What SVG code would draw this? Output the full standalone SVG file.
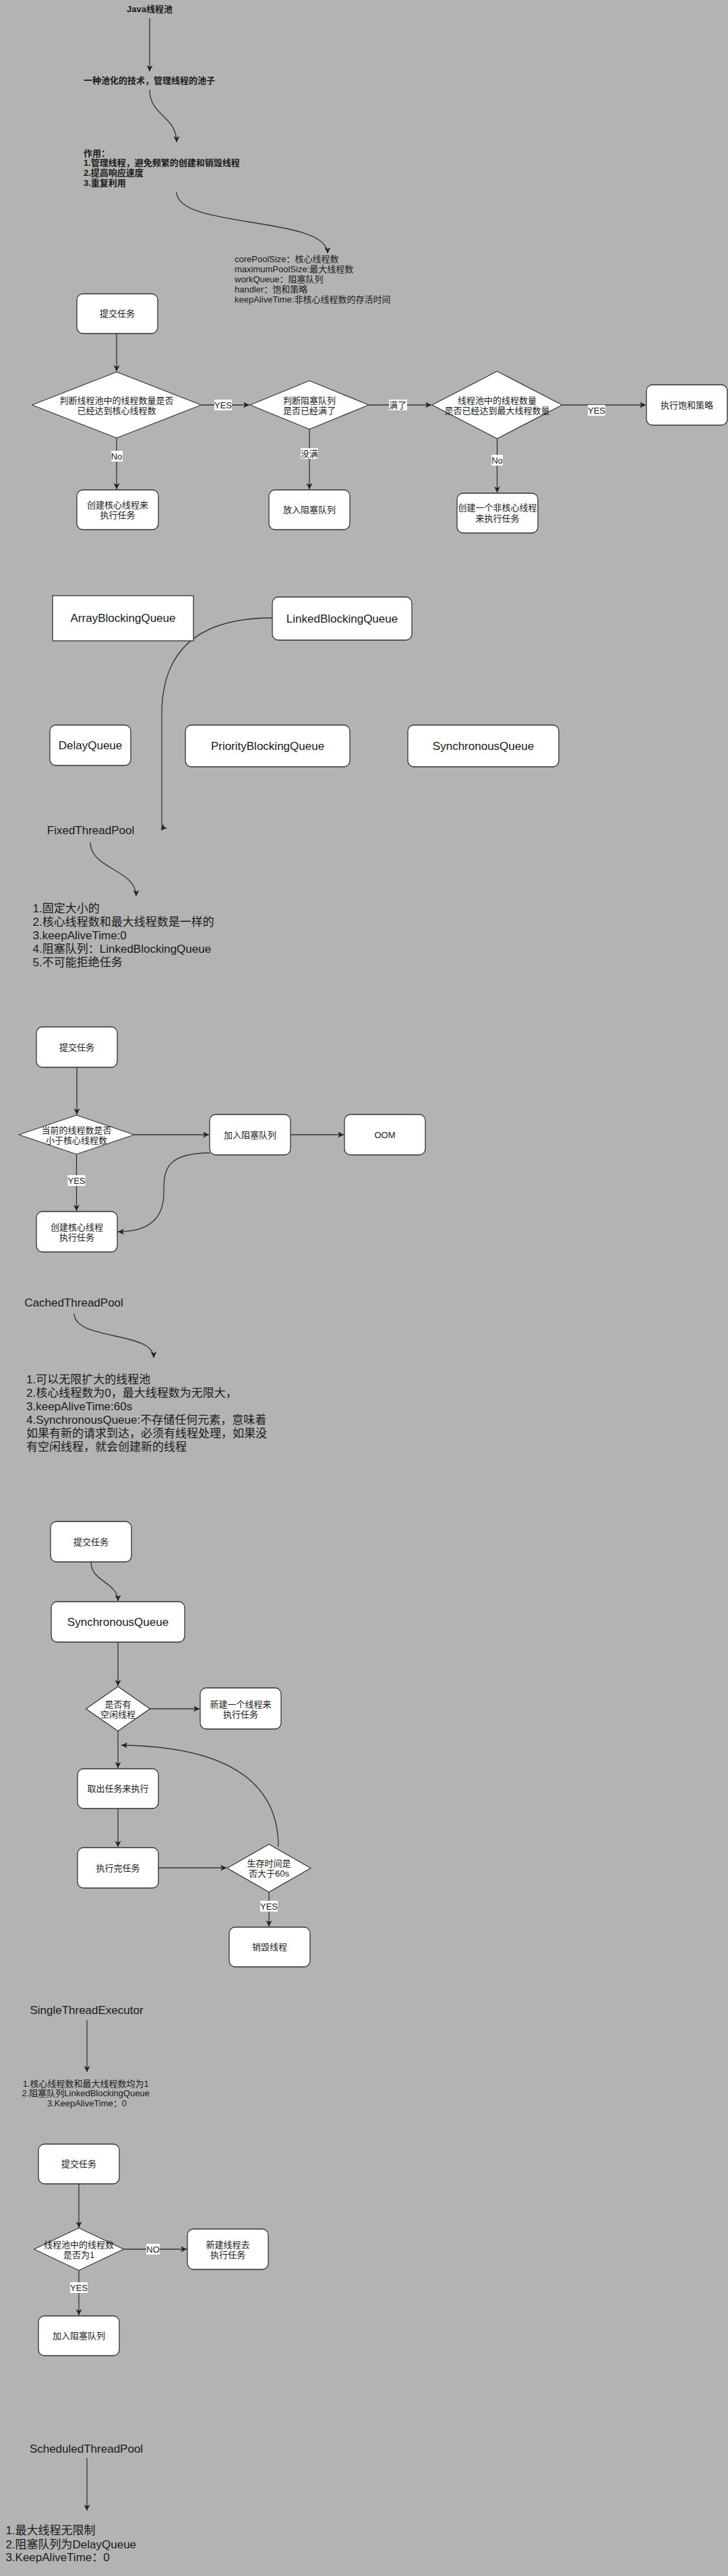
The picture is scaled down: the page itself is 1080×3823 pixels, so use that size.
<svg xmlns="http://www.w3.org/2000/svg" width="1080" height="3823" viewBox="0 0 1080 3823">
<defs>
<marker id="arr" markerUnits="userSpaceOnUse" markerWidth="12" markerHeight="12" refX="9" refY="4.5" orient="auto">
<path d="M0,0 L9,4.5 L0,9 L2.5,4.5 Z" fill="#222"/>
</marker>
<style>
text{font-family:"Liberation Sans","Noto Sans CJK SC",sans-serif;fill:#1a1a1a}
.t{font-size:13px;text-anchor:middle;dominant-baseline:central}
.tl{font-size:13px;dominant-baseline:central}
.b{font-weight:bold}
.big{font-size:17px}
.box{fill:#fff;stroke:#333;stroke-width:1.3}
.dia{fill:#fff;stroke:#333;stroke-width:1.3;stroke-linejoin:round}
.e{fill:none;stroke:#333;stroke-width:1.3;marker-end:url(#arr)}
.lb{fill:#fff}
</style>
</defs>
<rect x="0" y="0" width="1080" height="3823" fill="#b3b3b3"/>

<g id="connectors">
<path class="e" d="M222,27 L222,106"/>
<path class="e" d="M222,133 C222,172 262,172 262,211"/>
<path class="e" d="M262,285 C262,340 486,320 486,376"/>
<path class="e" d="M173,495 L173,551"/>
<path class="e" d="M299,601 L370,601"/>
<path class="e" d="M547,601 L640,601"/>
<path class="e" d="M834,601 L958,601"/>
<path class="e" d="M173,650 L173,726"/>
<path class="e" d="M459,637 L459,726"/>
<path class="e" d="M737.5,651 L737.5,731"/>
<path class="e" d="M404,917 C300,917 240,960 240,1060 L240,1231 L239,1232"/>
<path class="e" d="M134,1250 C134,1290 202,1290 202,1330"/>
<path class="e" d="M114,1584 L114,1654"/>
<path class="e" d="M199,1684 L310,1684"/>
<path class="e" d="M431,1684 L510,1684"/>
<path class="e" d="M113.5,1713 L113.5,1797"/>
<path class="e" d="M311,1711 C243,1711 243,1740 243,1770 C243,1805 225,1828 175,1828"/>
<path class="e" d="M110,1949 C110,1990 228,1975 228,2015"/>
<path class="e" d="M135,2318 C135,2348 175,2348 175,2376"/>
<path class="e" d="M175,2437 L175,2502"/>
<path class="e" d="M222.5,2536 L296,2536"/>
<path class="e" d="M175,2569 L175,2624"/>
<path class="e" d="M175,2684 L175,2741"/>
<path class="e" d="M235,2772 L336,2772"/>
<path class="e" d="M413,2741 C413,2640 330,2592 180,2590"/>
<path class="e" d="M399,2808 L399,2859"/>
<path class="e" d="M129,2998 L129,3075"/>
<path class="e" d="M117,3241 L117,3306"/>
<path class="e" d="M183.5,3338 L277,3338"/>
<path class="e" d="M117,3369.5 L117,3436"/>
<path class="e" d="M129,3648 L129,3726"/>
<g id="edge-labels">
<rect class="lb" x="318" y="593" width="26" height="16"/><text class="t" x="331" y="601">YES</text>
<rect class="lb" x="577" y="593" width="27" height="16"/><text class="t" x="590" y="601">满了</text>
<rect class="lb" x="872" y="601" width="26" height="16"/><text class="t" x="885" y="609">YES</text>
<rect class="lb" x="165" y="669" width="17" height="16"/><text class="t" x="173" y="677">No</text>
<rect class="lb" x="446" y="665" width="26" height="16"/><text class="t" x="459" y="673">没满</text>
<rect class="lb" x="729" y="675" width="17" height="16"/><text class="t" x="737.5" y="683">No</text>
<rect class="lb" x="100.5" y="1744" width="26" height="16"/><text class="t" x="113.5" y="1752">YES</text>
<rect class="lb" x="386" y="2821" width="26" height="16"/><text class="t" x="399" y="2829">YES</text>
<rect class="lb" x="217" y="3330" width="20" height="16"/><text class="t" x="227" y="3338">NO</text>
<rect class="lb" x="104" y="3387" width="26" height="16"/><text class="t" x="117" y="3395">YES</text>
</g>
</g>

<g id="n-java"><text class="t b" x="222" y="13.5">Java线程池</text></g>
<g id="n-pool"><text class="tl b" x="124" y="119">一种池化的技术，管理线程的池子</text></g>
<g id="n-use"><text class="tl b">
<tspan x="124" y="226.7">作用：</tspan>
<tspan x="124" y="241.4">1.管理线程，避免频繁的创建和销毁线程</tspan>
<tspan x="124" y="256.1">2.提高响应速度</tspan>
<tspan x="124" y="270.8">3.重复利用</tspan></text></g>
<g id="n-params"><text class="tl">
<tspan x="348" y="384">corePoolSize：核心线程数</tspan>
<tspan x="348" y="399">maximumPoolSize:最大线程数</tspan>
<tspan x="348" y="414">workQueue：阻塞队列</tspan>
<tspan x="348" y="429">handler：饱和策略</tspan>
<tspan x="348" y="444">keepAliveTime:非核心线程数的存活时间</tspan></text></g>

<g id="n-submit1"><rect class="box" x="114" y="436" width="120" height="59" rx="9"/><text class="t" x="174" y="465.5">提交任务</text></g>
<g id="n-d1"><polygon class="dia" points="47.5,601 173,552 298.5,601 173,650"/><text class="t"><tspan x="173" y="593.5">判断线程池中的线程数量是否</tspan><tspan x="173" y="608.5">已经达到核心线程数</tspan></text></g>
<g id="n-d2"><polygon class="dia" points="371,601 459,565 547,601 459,637"/><text class="t"><tspan x="459" y="593.5">判断阻塞队列</tspan><tspan x="459" y="608.5">是否已经满了</tspan></text></g>
<g id="n-d3"><polygon class="dia" points="641,601 737.5,551 834,601 737.5,651"/><text class="t"><tspan x="737.5" y="593.5">线程池中的线程数量</tspan><tspan x="737.5" y="608.5">是否已经达到最大线程数量</tspan></text></g>
<g id="n-sat"><rect class="box" x="959" y="571" width="120" height="60" rx="9"/><text class="t" x="1019" y="601">执行饱和策略</text></g>
<g id="n-core1"><rect class="box" x="114" y="727" width="121" height="59" rx="9"/><text class="t"><tspan x="174.5" y="749">创建核心线程来</tspan><tspan x="174.5" y="764">执行任务</tspan></text></g>
<g id="n-queue1"><rect class="box" x="399" y="727" width="120" height="59" rx="9"/><text class="t" x="459" y="756.5">放入阻塞队列</text></g>
<g id="n-noncore"><rect class="box" x="678" y="732" width="120" height="59" rx="9"/><text class="t"><tspan x="738" y="753">创建一个非核心线程</tspan><tspan x="738" y="769">来执行任务</tspan></text></g>

<g id="n-abq"><rect class="box" x="78" y="884" width="209" height="67"/><text class="t big" x="182.5" y="917.5">ArrayBlockingQueue</text></g>
<g id="n-lbq"><rect class="box" x="404" y="886" width="207" height="64" rx="9"/><text class="t big" x="507.5" y="918">LinkedBlockingQueue</text></g>
<g id="n-dq"><rect class="box" x="74" y="1076" width="120" height="60" rx="9"/><text class="t big" x="134" y="1106">DelayQueue</text></g>
<g id="n-pbq"><rect class="box" x="275" y="1076" width="244" height="62" rx="9"/><text class="t big" x="397" y="1107">PriorityBlockingQueue</text></g>
<g id="n-sq"><rect class="box" x="605" y="1076" width="224" height="62" rx="9"/><text class="t big" x="717" y="1107">SynchronousQueue</text></g>

<g id="n-fixed"><text class="t big" x="134.5" y="1232">FixedThreadPool</text></g>
<g id="n-fixed-list"><text class="tl big">
<tspan x="48.6" y="1348">1.固定大小的</tspan>
<tspan x="48.6" y="1368">2.核心线程数和最大线程数是一样的</tspan>
<tspan x="48.6" y="1388">3.keepAliveTime:0</tspan>
<tspan x="48.6" y="1408">4.阻塞队列：LinkedBlockingQueue</tspan>
<tspan x="48.6" y="1428">5.不可能拒绝任务</tspan></text></g>

<g id="n-submit2"><rect class="box" x="54" y="1524" width="120" height="60" rx="9"/><text class="t" x="114" y="1554">提交任务</text></g>
<g id="n-d4"><polygon class="dia" points="28,1684 113.5,1655 199,1684 113.5,1713"/><text class="t"><tspan x="113.5" y="1677">当前的线程数是否</tspan><tspan x="113.5" y="1692">小于核心线程数</tspan></text></g>
<g id="n-addq2"><rect class="box" x="311" y="1654" width="120" height="60" rx="9"/><text class="t" x="371" y="1684">加入阻塞队列</text></g>
<g id="n-oom"><rect class="box" x="511" y="1654" width="120" height="60" rx="9"/><text class="t" x="571" y="1684">OOM</text></g>
<g id="n-core2"><rect class="box" x="54" y="1798" width="120" height="60" rx="9"/><text class="t"><tspan x="114" y="1821">创建核心线程</tspan><tspan x="114" y="1836">执行任务</tspan></text></g>

<g id="n-cached"><text class="t big" x="109.6" y="1933">CachedThreadPool</text></g>
<g id="n-cached-list"><text class="tl big">
<tspan x="39" y="2047">1.可以无限扩大的线程池</tspan>
<tspan x="39" y="2067">2.核心线程数为0，最大线程数为无限大，</tspan>
<tspan x="39" y="2087">3.keepAliveTime:60s</tspan>
<tspan x="39" y="2107">4.SynchronousQueue:不存储任何元素，意味着</tspan>
<tspan x="39" y="2127">如果有新的请求到达，必须有线程处理，如果没</tspan>
<tspan x="39" y="2147">有空闲线程，就会创建新的线程</tspan></text></g>

<g id="n-submit3"><rect class="box" x="75" y="2258" width="120" height="60" rx="9"/><text class="t" x="135" y="2288">提交任务</text></g>
<g id="n-sq2"><rect class="box" x="76" y="2377" width="198" height="60" rx="9"/><text class="t big" x="175" y="2407">SynchronousQueue</text></g>
<g id="n-d5"><polygon class="dia" points="127.5,2536 175,2503 222.5,2536 175,2569"/><text class="t"><tspan x="175" y="2529">是否有</tspan><tspan x="175" y="2544">空闲线程</tspan></text></g>
<g id="n-new3"><rect class="box" x="297" y="2505" width="120" height="61" rx="9"/><text class="t"><tspan x="357" y="2529">新建一个线程来</tspan><tspan x="357" y="2544">执行任务</tspan></text></g>
<g id="n-take"><rect class="box" x="115" y="2625" width="120" height="59" rx="9"/><text class="t" x="175" y="2654.5">取出任务来执行</text></g>
<g id="n-done"><rect class="box" x="115" y="2742" width="120" height="60" rx="9"/><text class="t" x="175" y="2772">执行完任务</text></g>
<g id="n-d6"><polygon class="dia" points="337,2772.5 399,2737 461,2772.5 399,2808"/><text class="t"><tspan x="399" y="2765">生存时间是</tspan><tspan x="399" y="2780">否大于60s</tspan></text></g>
<g id="n-destroy"><rect class="box" x="340" y="2860" width="120" height="59" rx="9"/><text class="t" x="400" y="2889.5">销毁线程</text></g>

<g id="n-single"><text class="t big" x="128.5" y="2983">SingleThreadExecutor</text></g>
<g id="n-single-list"><text class="t">
<tspan x="129" y="3091.6">1.核心线程数和最大线程数均为1</tspan>
<tspan x="129" y="3106.3">2.阻塞队列LinkedBlockingQueue</tspan>
<tspan x="129" y="3121">3.KeepAliveTime：0</tspan></text></g>
<g id="n-submit4"><rect class="box" x="57" y="3182" width="120" height="59" rx="9"/><text class="t" x="117" y="3211.5">提交任务</text></g>
<g id="n-d7"><polygon class="dia" points="50.5,3338 117,3306.5 183.5,3338 117,3369.5"/><text class="t"><tspan x="117" y="3331">线程池中的线程数</tspan><tspan x="117" y="3346">是否为1</tspan></text></g>
<g id="n-new4"><rect class="box" x="278" y="3308" width="120" height="60" rx="9"/><text class="t"><tspan x="338" y="3331">新建线程去</tspan><tspan x="338" y="3346">执行任务</tspan></text></g>
<g id="n-addq4"><rect class="box" x="57" y="3437" width="120" height="59" rx="9"/><text class="t" x="117" y="3466.5">加入阻塞队列</text></g>

<g id="n-sched"><text class="t big" x="128" y="3634">ScheduledThreadPool</text></g>
<g id="n-sched-list"><text class="tl big">
<tspan x="8.4" y="3755">1.最大线程无限制</tspan>
<tspan x="8.4" y="3775.5">2.阻塞队列为DelayQueue</tspan>
<tspan x="8.4" y="3795">3.KeepAliveTime：0</tspan></text></g>
</svg>
